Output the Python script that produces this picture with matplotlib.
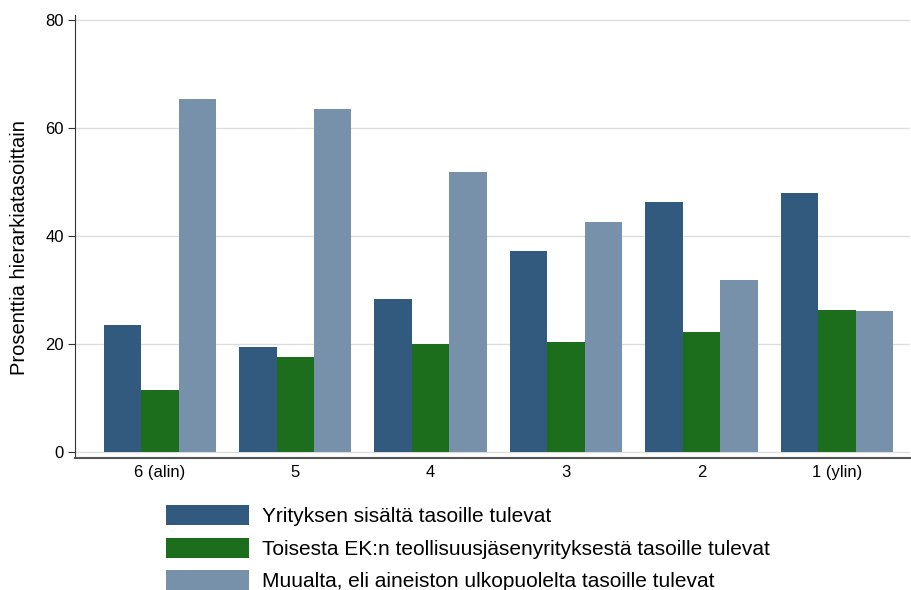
import numpy as np
import matplotlib.pyplot as plt

plt.rcParams['font.family'] = ['Liberation Sans', 'DejaVu Sans']

levels = ["6 (alin)", "5", "4", "3", "2", "1 (ylin)"]
inside = [23.5, 19.4, 28.4, 37.2, 46.3, 48.0]
other_ek = [11.5, 17.6, 20.1, 20.4, 22.2, 26.3]
outside = [65.4, 63.5, 51.9, 42.6, 31.9, 26.1]

labels = ["Yrityksen sisältä tasoille tulevat",
          "Toisesta EK:n teollisuusjäsenyrityksestä tasoille tulevat",
          "Muualta, eli aineiston ulkopuolelta tasoille tulevat"]
colors = ["#325a7e", "#1c6e1c", "#7891ab"]

fig = plt.figure(figsize=(9.11, 5.9), dpi=100)
ax = fig.add_axes([75/911, 1-458/590, (910-75)/911, (458-15)/590])

x = np.arange(len(levels))
w = 0.2767
for i, (vals, c, lab) in enumerate(zip([inside, other_ek, outside], colors, labels)):
    ax.bar(x + (i-1)*w, vals, width=w, color=c, label=lab, zorder=3)

ax.set_xlim(-0.627, 5.54)
ax.set_ylim(-1.12, 81)
ax.set_yticks([0, 20, 40, 60, 80])
ax.set_xticks(x)
ax.set_xticklabels(levels, fontsize=12)
ax.tick_params(axis='y', labelsize=12, length=5, color='#333333', pad=3)
ax.tick_params(axis='x', length=0, pad=5)
ax.grid(axis='y', color='#dddddd', linewidth=1, zorder=0)
ax.set_ylabel("Prosenttia hierarkiatasoittain", fontsize=14.5)
ax.yaxis.set_label_coords(-0.055, 0.476)
for s in ['top', 'right']:
    ax.spines[s].set_visible(False)
ax.spines['left'].set_color('#333333')
ax.spines['bottom'].set_color('#555555')
ax.spines['bottom'].set_linewidth(1.5)

fig.legend(loc='upper left', bbox_to_anchor=(158/911, 1-497/590), frameon=False,
           fontsize=15, handlelength=3.95, handleheight=1.1, labelspacing=0.54,
           handletextpad=0.65, borderaxespad=0)

fig.savefig("out.png", dpi=100)
